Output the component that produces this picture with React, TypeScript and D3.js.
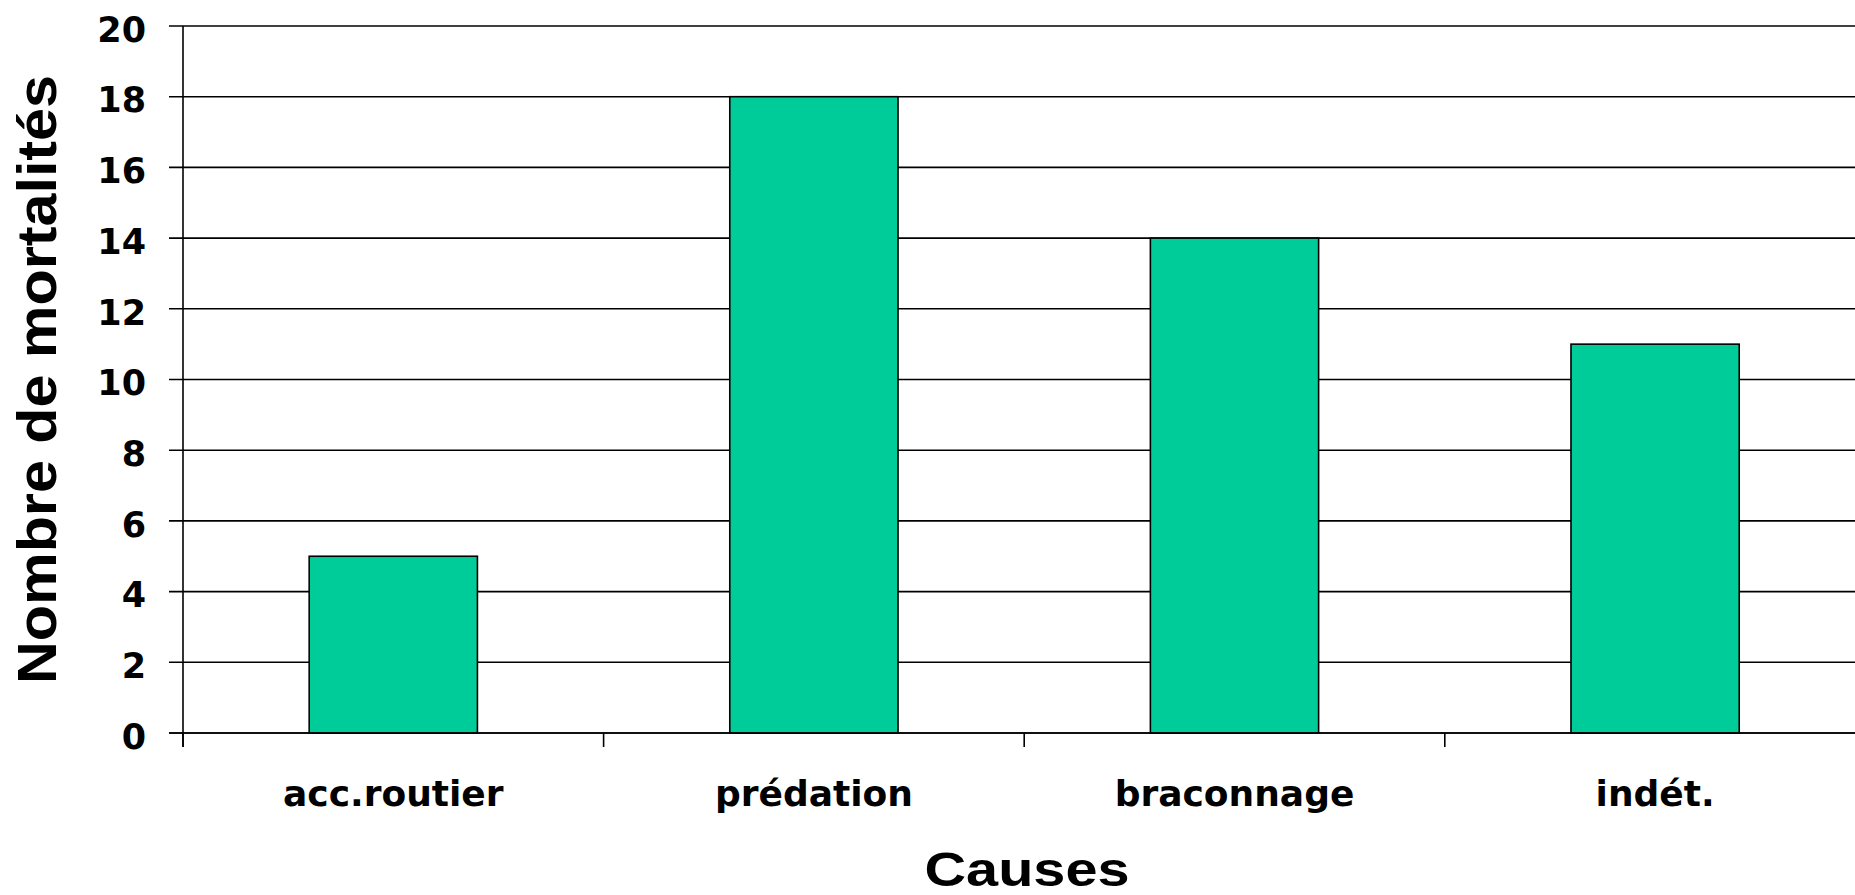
import React, { useEffect, useRef } from 'react';
import * as d3 from 'd3';

const categories = ['acc.routier', 'prédation', 'braconnage', 'indét.'];
const mortalites = [5, 18, 14, 11];
const yTicks = [0, 2, 4, 6, 8, 10, 12, 14, 16, 18, 20];

const WIDTH = 1855;
const HEIGHT = 895;

const App: React.FC = () => {
  const svgRef = useRef<SVGSVGElement>(null);

  useEffect(() => {
    if (!svgRef.current) return;
    const svg = d3.select(svgRef.current);
    svg.selectAll('*').remove();

    const left = 183;
    const step = 420.6;
    const tickFont = '"DejaVu Sans", Verdana, sans-serif';
    const titleFont = '"Liberation Sans", Arial, sans-serif';

    const x = d3.scaleBand<string>()
      .domain(categories)
      .range([left, left + step * categories.length])
      .paddingInner(0.6)
      .paddingOuter(0.3);

    const y = d3.scaleLinear().domain([0, 20]).range([733, 26]);

    // gridlines + y ticks
    svg.append('g')
      .selectAll('line')
      .data(yTicks)
      .join('line')
      .attr('x1', left - 14)
      .attr('x2', WIDTH)
      .attr('y1', d => y(d))
      .attr('y2', d => y(d))
      .attr('stroke', '#000')
      .attr('stroke-width', 1.6);

    svg.append('g')
      .selectAll('text')
      .data(yTicks)
      .join('text')
      .attr('x', 146)
      .attr('y', d => y(d) + 15.7)
      .attr('text-anchor', 'end')
      .style('font-family', tickFont)
      .style('font-weight', 'bold')
      .style('font-size', '35px')
      .text(d => d);

    // bars
    svg.append('g')
      .selectAll('rect')
      .data(mortalites)
      .join('rect')
      .attr('x', (_, i) => x(categories[i]) || 0)
      .attr('y', d => y(d))
      .attr('width', x.bandwidth())
      .attr('height', d => y(0) - y(d))
      .attr('fill', '#00CC99')
      .attr('stroke', '#000')
      .attr('stroke-width', 1.6);

    // y axis line
    svg.append('line')
      .attr('x1', left).attr('x2', left)
      .attr('y1', y(20)).attr('y2', y(0) + 14)
      .attr('stroke', '#000')
      .attr('stroke-width', 1.6);

    // x axis line
    svg.append('line')
      .attr('x1', left - 14).attr('x2', WIDTH)
      .attr('y1', y(0)).attr('y2', y(0))
      .attr('stroke', '#000')
      .attr('stroke-width', 1.6);

    // category boundary ticks
    const gap = (x.step() - x.bandwidth()) / 2;
    const bounds = categories.map(c => (x(c) || 0) - gap);
    svg.append('g')
      .selectAll('line')
      .data(bounds)
      .join('line')
      .attr('x1', d => d).attr('x2', d => d)
      .attr('y1', y(0)).attr('y2', y(0) + 14)
      .attr('stroke', '#000')
      .attr('stroke-width', 1.6);

    // category labels
    svg.append('g')
      .selectAll('text')
      .data(categories)
      .join('text')
      .attr('x', d => (x(d) || 0) + x.bandwidth() / 2)
      .attr('y', 805.5)
      .attr('text-anchor', 'middle')
      .style('font-family', tickFont)
      .style('font-weight', 'bold')
      .style('font-size', '36px')
      .text(d => d);

    // axis titles
    svg.append('text')
      .attr('x', 1027)
      .attr('y', 886)
      .attr('text-anchor', 'middle')
      .attr('textLength', 205)
      .attr('lengthAdjust', 'spacingAndGlyphs')
      .style('font-family', titleFont)
      .style('font-weight', 'bold')
      .style('font-size', '48px')
      .text('Causes');

    svg.append('text')
      .attr('transform', `translate(56,${(y(0) + y(20)) / 2}) rotate(-90)`)
      .attr('text-anchor', 'middle')
      .attr('textLength', 609)
      .attr('lengthAdjust', 'spacingAndGlyphs')
      .style('font-family', titleFont)
      .style('font-weight', 'bold')
      .style('font-size', '55px')
      .text('Nombre de mortalités');
  }, []);

  return (
    <svg
      ref={svgRef}
      width={WIDTH}
      height={HEIGHT}
      style={{ position: 'absolute', left: 0, top: 0, background: '#fff', display: 'block' }}
    />
  );
};

export default App;
